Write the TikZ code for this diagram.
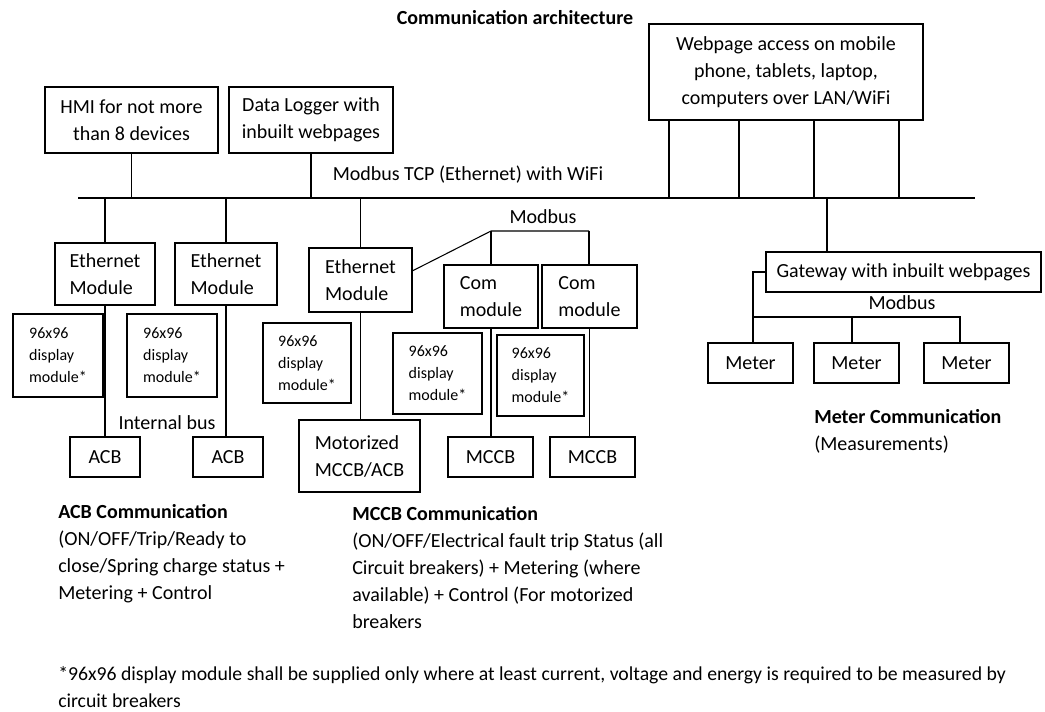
\documentclass[tikz,border=0pt]{standalone}
\usepackage{fontspec}
\setmainfont{Carlito}
\tikzset{
  box/.style 2 args={draw, line width=0.8pt, inner sep=0pt, align=center,
    minimum width=#1*0.75pt, minimum height=#2*0.75pt,
    font=\fontsize{15}{20.25}\selectfont},
  dispbox/.style 2 args={box={#1}{#2}, align=left,
    font=\fontsize{12}{16.5}\selectfont},
  lbl/.style={inner sep=0pt, font=\fontsize{15}{20.25}\selectfont},
  head/.style={lbl, font=\fontsize{15}{20.25}\selectfont\bfseries},
  wire/.style={line width=0.8pt}
}
\begin{document}
\begin{tikzpicture}[x=0.75pt, y=-0.75pt]
  \useasboundingbox (0,0) rectangle (1045,711);
  % top level
  \node[head] (title) at (515,18) {Communication architecture};
  \node[box={173}{66}] (hmi) at (131.5,120) {HMI for not more\\than 8 devices};
  \node[box={164}{66}] (logger) at (311,120) {Data Logger with\\inbuilt webpages};
  \node[box={274}{96}] (web) at (786,72) {Webpage access on mobile\\phone, tablets, laptop,\\computers over LAN/WiFi};
  \node[lbl] (tcp) at (468,175) {Modbus TCP (Ethernet) with WiFi};
  \coordinate (busL) at (78,198);
  \coordinate (busR) at (975,198);
  % ACB branch
  \node[box={100}{62}, align=left] (eth1) at (105,274) {Ethernet\\Module};
  \node[box={102}{62}, align=left] (eth2) at (226,274) {Ethernet\\Module};
  \node[dispbox={90}{83}] (disp1) at (58,355.5) {96x96\\display\\module*};
  \node[dispbox={90}{83}] (disp2) at (172,355.5) {96x96\\display\\module*};
  \node[lbl] (intbus) at (167,423) {Internal bus};
  \node[box={70}{40}] (acb1) at (105,457) {ACB};
  \node[box={70}{40}] (acb2) at (228,457) {ACB};
  % MCCB branch
  \node[box={103}{64}, align=left] (eth3) at (360.5,280) {Ethernet\\Module};
  \node[dispbox={88}{80}] (disp3) at (307,363) {96x96\\display\\module*};
  \node[box={121}{72}, align=left] (motor) at (359.5,456) {Motorized\\MCCB/ACB};
  \node[lbl] (modbus1) at (543,217) {Modbus};
  \node[box={94}{63}, align=left] (com1) at (491,296.5) {Com\\module};
  \node[box={95}{63}, align=left] (com2) at (589.5,296.5) {Com\\module};
  \node[dispbox={89}{81}] (disp4) at (437.5,373.5) {96x96\\display\\module*};
  \node[dispbox={87}{81}] (disp5) at (540.5,375.5) {96x96\\display\\module*};
  \node[box={85}{40}] (mccb1) at (490.5,457) {MCCB};
  \node[box={85}{40}] (mccb2) at (592.5,457) {MCCB};
  \coordinate (mb1) at (491,231);
  \coordinate (mb2) at (589,231);
  % meter branch
  \node[box={275}{40}] (gateway) at (903.5,272) {Gateway with inbuilt webpages};
  \node[lbl] (modbus2) at (902,303) {Modbus};
  \node[box={85}{40}] (meter1) at (750.5,363) {Meter};
  \node[box={85}{40}] (meter2) at (856.5,363) {Meter};
  \node[box={85}{40}] (meter3) at (966.5,363) {Meter};
  \coordinate (gwtap) at (827,198);
  \coordinate (mbus1) at (753,317);
  \coordinate (mbus2) at (852,317);
  \coordinate (mbus3) at (960,317);
  % notes
  \node[lbl, anchor=north west, align=left] (acbtxt) at (58,504) {\textbf{ACB Communication}\\(ON/OFF/Trip/Ready to\\close/Spring charge status +\\Metering + Control};
  \node[lbl, anchor=north west, align=left] (mccbtxt) at (352,506) {\textbf{MCCB Communication}\\(ON/OFF/Electrical fault trip Status (all\\Circuit breakers) + Metering (where\\available) + Control (For motorized\\breakers};
  \node[lbl, anchor=north west, align=left] (metertxt) at (814,409) {\textbf{Meter Communication}\\(Measurements)};
  \node[lbl, anchor=north west, align=left, font=\fontsize{14.8}{20.25}\selectfont] (foot) at (58,666) {*96x96 display module shall be supplied only where at least current, voltage and energy is required to be measured by\\circuit breakers};
  \begin{scope}[wire]
    \draw (busL) -- (busR);
    \draw (hmi.south) -- (hmi.south |- busL);
    \draw (logger.south) -- (logger.south |- busL);
    \foreach \x in {669,739,814,899} {
      \coordinate (tap) at (\x,198);
      \draw (tap) -- (tap |- web.south);
    }
    \draw (eth1.north) -- (eth1.north |- busL);
    \draw (eth2.north) -- (eth2.north |- busL);
    \draw (eth3.north) -- (eth3.north |- busL);
    \draw (eth1.south) -- (eth1.south |- acb1.north);
    \draw (eth2.south) -- (eth2.south |- acb2.north);
    \draw (eth3.south) -- (eth3.south |- motor.north);
    \draw (eth3.10) -- (mb1) -- (mb2);
    \draw (mb1) -- (mb1 |- com1.north);
    \draw (mb2) -- (mb2 |- com2.north);
    \draw (com1.south) -- (com1.south |- mccb1.north);
    \draw (com2.south) -- (com2.south |- mccb2.north);
    \draw (gwtap) -- (gwtap |- gateway.north);
    \draw (gateway.west) -| (mbus1) -- (mbus1 |- meter1.north);
    \draw (mbus1) -- (mbus3) -- (mbus3 |- meter3.north);
    \draw (mbus2) -- (mbus2 |- meter2.north);
  \end{scope}
\end{tikzpicture}
\end{document}
